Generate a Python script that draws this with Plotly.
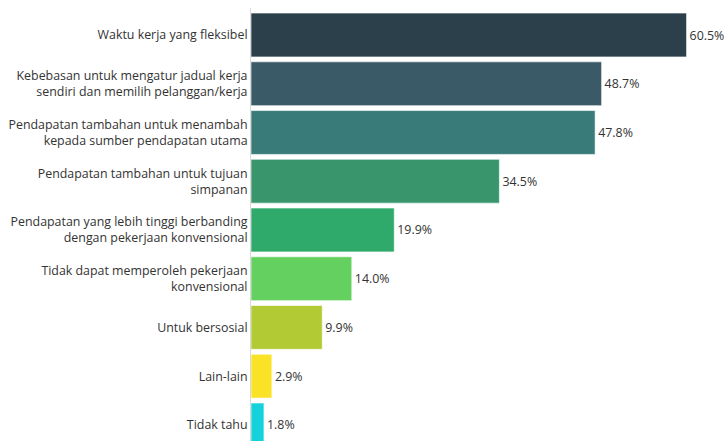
import plotly.graph_objects as go

categories = [
    "Waktu kerja yang fleksibel",
    "Kebebasan untuk mengatur jadual kerja<br>sendiri dan memilih pelanggan/kerja",
    "Pendapatan tambahan untuk menambah<br>kepada sumber pendapatan utama",
    "Pendapatan tambahan untuk tujuan<br>simpanan",
    "Pendapatan yang lebih tinggi berbanding<br>dengan pekerjaan konvensional",
    "Tidak dapat memperoleh pekerjaan<br>konvensional",
    "Untuk bersosial",
    "Lain-lain",
    "Tidak tahu",
]
values = [60.5, 48.7, 47.8, 34.5, 19.9, 14.0, 9.9, 2.9, 1.8]
colors = ["#2c404c", "#3b5a67", "#397b78", "#38956c", "#2faa6a",
          "#64d05f", "#b2cb35", "#fae227", "#14d2dc"]

fig = go.Figure(go.Bar(
    y=categories,
    x=values,
    orientation="h",
    marker=dict(color=colors, line=dict(color="rgba(255,255,255,0.6)", width=1)),
    text=[f"{v:.1f}%" for v in values],
    textposition="outside",
    cliponaxis=False,
    textfont=dict(size=12.4, color="#333333"),
    width=0.9,
))

fig.update_layout(
    width=724, height=441,
    margin=dict(l=251, r=0, t=8, b=0),
    paper_bgcolor="white", plot_bgcolor="white",
    font=dict(family="Open Sans, Noto Sans, sans-serif", size=12.4, color="#333333"),
    showlegend=False,
    xaxis=dict(range=[0, 65.7], visible=False, showgrid=False, zeroline=False),
    yaxis=dict(
        type="category",
        range=[8.33, -0.554],
        showline=True, linecolor="#d9d9d9", linewidth=1,
        showgrid=False, ticks="", ticklen=0,
        tickfont=dict(size=12.4, color="#333333"),
        automargin=False,
    ),
)

fig.write_html("out.html")
